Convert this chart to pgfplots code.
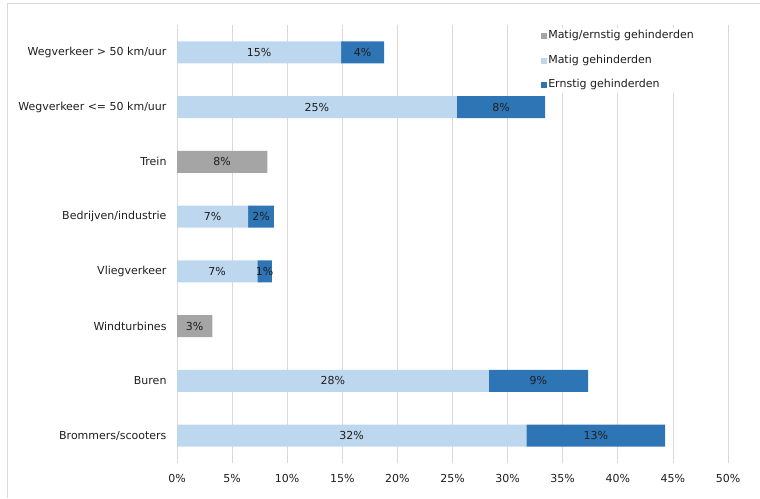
\documentclass[border=0pt]{standalone}
\usepackage{pgfplots}
\usepackage{pgfplotstable}
\pgfplotsset{compat=1.18}
\usepackage{fontspec}
\setmainfont{DejaVu Sans}
\definecolor{cgray}{RGB}{165,165,165}
\definecolor{clight}{RGB}{189,215,238}
\definecolor{cdark}{RGB}{46,117,182}
\definecolor{ctext}{RGB}{30,30,30}
\definecolor{cgrid}{RGB}{217,217,217}
\pgfplotstableread{
y gray light dark gl ll dl
0 0   31.7  12.6 {} 32\% 13\%
1 0   28.3  9.0  {} 28\% 9\%
2 3.2 0     0    3\% {} {}
3 0   7.3   1.3  {} 7\% 1\%
4 0   6.45  2.35 {} 7\% 2\%
5 8.2 0     0    8\% {} {}
6 0   25.4  8.0  {} 25\% 8\%
7 0   14.9  3.9  {} 15\% 4\%
}\data
\newcommand{\lblfont}{\fontsize{11}{12}\selectfont}
\begin{document}
\begin{tikzpicture}[x=1pt,y=1pt]
\useasboundingbox (0,0) rectangle (760,498);
\draw[cgrid, line width=0.8pt] (7,0) -- (7,495) -- (760,495);
\begin{axis}[
  at={(177pt,35pt)}, anchor=south west,
  scale only axis, width=551pt, height=438pt,
  xbar stacked, bar width=22pt,
  xmin=0, xmax=50, ymin=-0.5, ymax=7.5,
  xtick={0,5,...,50},
  /pgf/number format/assume math mode=true,
  xticklabel={\pgfmathprintnumber{\tick}\%},
  ytick={0,...,7},
  yticklabels={Brommers/scooters, Buren, Windturbines, Vliegverkeer, Bedrijven/industrie, Trein, Wegverkeer <= 50 km/uur, Wegverkeer > 50 km/uur},
  axis line style={draw=none},
  major tick length=0pt,
  xmajorgrids, grid style={draw=cgrid, line width=0.8pt},
  tick label style={font=\lblfont, text=ctext},
  yticklabel style={xshift=-7pt},
  xticklabel style={yshift=-8pt},
  point meta=explicit symbolic,
  nodes near coords,
  every node near coord/.append style={font=\lblfont, text=ctext, anchor=center},
  legend style={at={(0.658,0.993)}, anchor=north west, draw=none, fill=white,
    font=\lblfont, text=ctext, row sep=11pt, inner sep=1pt,
    nodes={inner sep=1.5pt, text height=8pt, text depth=2.5pt}},
  legend cell align=left,
  legend image code/.code={\fill[#1] (0pt,-3pt) rectangle (6pt,3pt);},
]
\addplot[fill=cgray, draw=none] table[x=gray, y=y, meta=gl] {\data};
\addplot[fill=clight, draw=none] table[x=light, y=y, meta=ll] {\data};
\addplot[fill=cdark, draw=none] table[x=dark, y=y, meta=dl] {\data};
\legend{Matig/ernstig gehinderden, Matig gehinderden, Ernstig gehinderden}
\end{axis}
\end{tikzpicture}
\end{document}
